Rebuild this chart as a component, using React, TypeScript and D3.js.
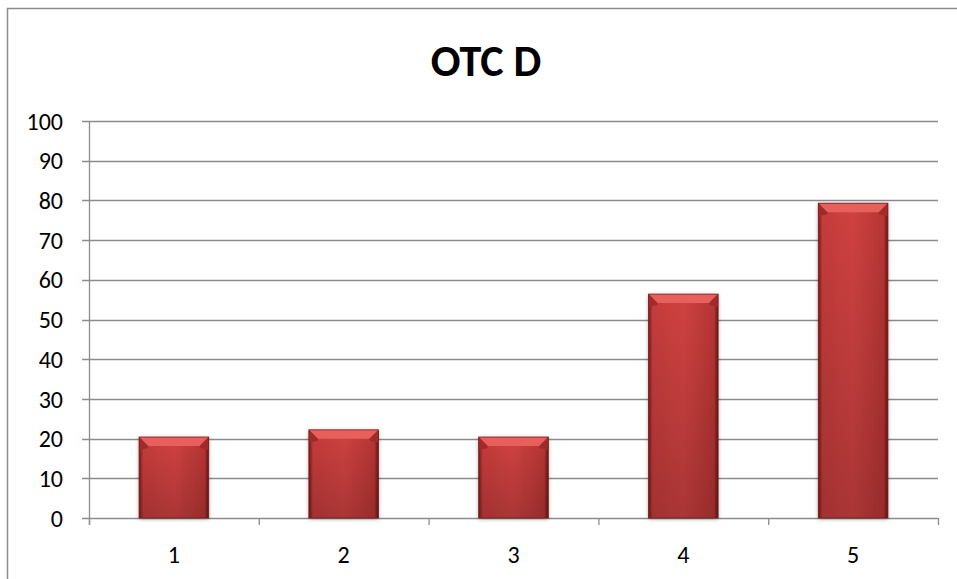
import { useEffect, useRef } from 'react';
import * as d3 from 'd3';

const categories = ['1', '2', '3', '4', '5'];
const values = [20.4, 22.2, 20.4, 56.4, 79.3];
const yTicks = [0, 10, 20, 30, 40, 50, 60, 70, 80, 90, 100];
const title = 'OTC D';

const W = 957;
const H = 579;

export default function App() {
  const svgRef = useRef<SVGSVGElement>(null);

  useEffect(() => {
    if (!svgRef.current) return;
    const svg = d3.select(svgRef.current);
    svg.selectAll('*').remove();

    const margin = { top: 121, right: 19, bottom: 61, left: 89 };
    const innerWidth = W - margin.left - margin.right;
    const innerHeight = H - margin.top - margin.bottom;
    const font = 'Carlito, Calibri, Lato, sans-serif';

    // Defs: bar gradients
    const defs = svg.append('defs');
    const side = defs.append('linearGradient').attr('id', 'barSide').attr('x1', 0).attr('x2', 1).attr('y1', 0).attr('y2', 0);
    side.append('stop').attr('offset', '0%').attr('stop-color', '#7a1a1a');
    side.append('stop').attr('offset', '6%').attr('stop-color', '#c53c3b');
    side.append('stop').attr('offset', '50%').attr('stop-color', '#d04241');
    side.append('stop').attr('offset', '94%').attr('stop-color', '#b83534');
    side.append('stop').attr('offset', '100%').attr('stop-color', '#6a1414');
    const shade = defs.append('linearGradient').attr('id', 'barShade').attr('x1', 0).attr('x2', 0).attr('y1', 0).attr('y2', 1);
    shade.append('stop').attr('offset', '0%').attr('stop-color', '#000').attr('stop-opacity', 0);
    shade.append('stop').attr('offset', '100%').attr('stop-color', '#000').attr('stop-opacity', 0.18);
    const filter = defs.append('filter').attr('id', 'barShadow').attr('x', '-20%').attr('y', '-10%').attr('width', '140%').attr('height', '120%');
    filter.append('feDropShadow').attr('dx', 0).attr('dy', 1).attr('stdDeviation', 2).attr('flood-color', '#000').attr('flood-opacity', 0.35);

    // Chart border (runs off the right and bottom edges)
    svg.append('rect')
      .attr('x', 7.5).attr('y', 8.5)
      .attr('width', W + 20).attr('height', H + 20)
      .attr('fill', '#fff')
      .attr('stroke', '#8c8c8c')
      .attr('stroke-width', 1.5);

    // Title
    svg.append('text')
      .attr('x', 486).attr('y', 76)
      .attr('text-anchor', 'middle')
      .attr('font-family', font)
      .attr('font-weight', 'bold')
      .attr('font-size', 44)
      .attr('fill', '#000')
      .text(title);

    const x = d3.scaleBand().domain(categories).range([0, innerWidth]).paddingInner(0.59).paddingOuter(0.295);
    const y = d3.scaleLinear().domain([0, 100]).range([innerHeight, 0]);

    const g = svg.append('g').attr('transform', `translate(${margin.left},${margin.top})`);

    // Gridlines
    g.append('g')
      .selectAll('line')
      .data(yTicks)
      .join('line')
      .attr('x1', -7).attr('x2', innerWidth)
      .attr('y1', d => Math.round(y(d)) + 0.5).attr('y2', d => Math.round(y(d)) + 0.5)
      .attr('stroke', '#8c8c8c')
      .attr('stroke-width', 1.3);

    // Y axis line
    g.append('line')
      .attr('x1', 0.5).attr('x2', 0.5)
      .attr('y1', 0).attr('y2', innerHeight + 7)
      .attr('stroke', '#8c8c8c').attr('stroke-width', 1.3);

    // X ticks (category boundaries)
    const step = innerWidth / categories.length;
    g.append('g')
      .selectAll('line')
      .data(d3.range(categories.length + 1))
      .join('line')
      .attr('x1', i => i * step + 0.5).attr('x2', i => i * step + 0.5)
      .attr('y1', innerHeight).attr('y2', innerHeight + 7)
      .attr('stroke', '#8c8c8c').attr('stroke-width', 1.3);

    // Y labels
    g.append('g')
      .selectAll('text')
      .data(yTicks)
      .join('text')
      .attr('x', -26)
      .attr('y', d => y(d))
      .attr('dy', '0.36em')
      .attr('text-anchor', 'end')
      .attr('font-family', font)
      .attr('font-size', 24)
      .attr('fill', '#000')
      .text(d => d);

    // X labels
    g.append('g')
      .selectAll('text')
      .data(categories)
      .join('text')
      .attr('x', d => (x(d) ?? 0) + x.bandwidth() / 2)
      .attr('y', innerHeight + 45)
      .attr('text-anchor', 'middle')
      .attr('font-family', font)
      .attr('font-size', 24)
      .attr('fill', '#000')
      .text(d => d);

    // Bars
    const bars = g.append('g')
      .selectAll('g')
      .data(categories.map((c, i) => ({ c, v: values[i] })))
      .join('g')
      .attr('transform', d => `translate(${x(d.c)},${y(d.v)})`);

    const bw = x.bandwidth();
    const bev = 9;
    bars.append('rect')
      .attr('width', bw)
      .attr('height', d => innerHeight - y(d.v))
      .attr('fill', 'url(#barSide)')
      .attr('filter', 'url(#barShadow)');
    bars.append('rect')
      .attr('width', bw)
      .attr('height', d => innerHeight - y(d.v))
      .attr('fill', 'url(#barShade)');
    // Top bevel
    bars.append('path')
      .attr('d', `M0,0 L${bw},0 L${bw - bev},${bev} L${bev},${bev} Z`)
      .attr('fill', '#e8605d');
    bars.append('path')
      .attr('d', `M0,0 L${bev},${bev} L${bev},${bev + 2} L0,${bev + 4} Z`)
      .attr('fill', '#a02b2a');
    bars.append('path')
      .attr('d', `M${bw},0 L${bw - bev},${bev} L${bw - bev},${bev + 2} L${bw},${bev + 4} Z`)
      .attr('fill', '#a02b2a');
    bars.append('rect')
      .attr('width', bw)
      .attr('height', d => innerHeight - y(d.v))
      .attr('fill', 'none')
      .attr('stroke', '#7a1c1c')
      .attr('stroke-width', 0.8);
  }, []);

  return (
    <svg
      ref={svgRef}
      width={W}
      height={H}
      style={{ position: 'absolute', left: 0, top: 0, display: 'block' }}
    />
  );
}
